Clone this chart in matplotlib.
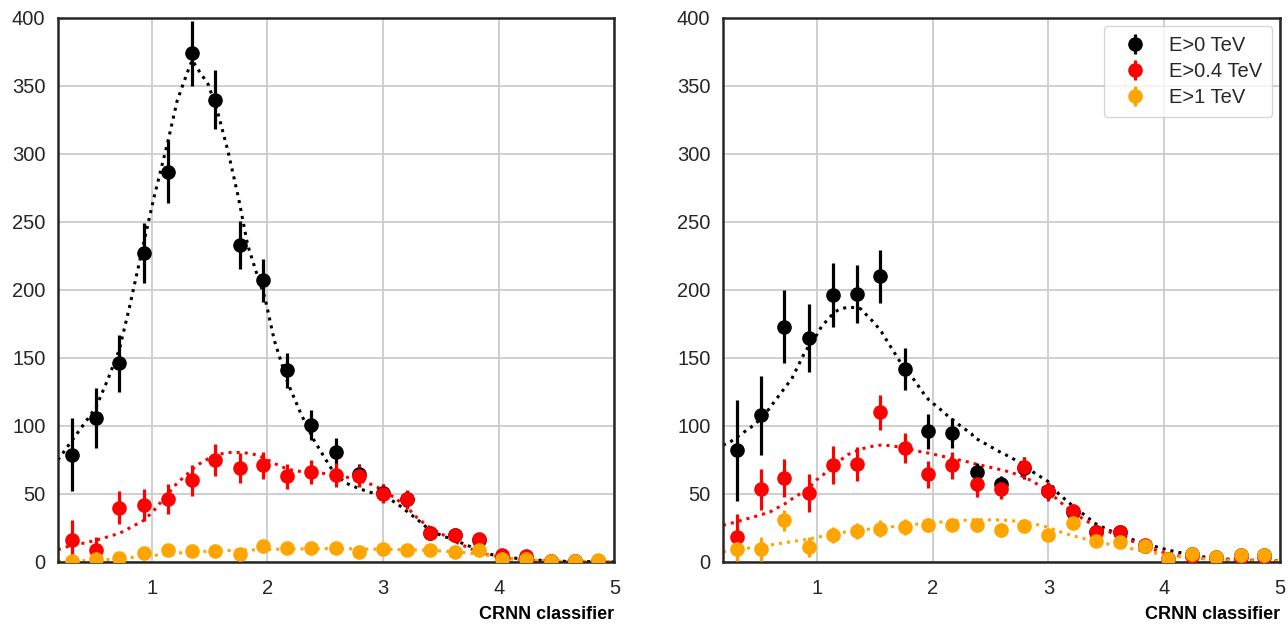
import numpy as np
import matplotlib
matplotlib.use("Agg")
import matplotlib.pyplot as plt

# bin centres on the CRNN classifier axis
bins = [0.31, 0.52, 0.72, 0.93, 1.14, 1.35, 1.55, 1.76, 1.96, 2.17, 2.38, 2.59,
        2.79, 3.00, 3.21, 3.41, 3.62, 3.83, 4.03, 4.24, 4.45, 4.66, 4.86]

# ---- left panel: counts and errors ----
left_e0 = [79, 106, 146, 227, 287, 374, 340, 233, 207, 141, 101, 81,
           65, 51, 46, 21, 20, 16, 3, 3, 1, 0.5, 1]
left_e0_err = [27, 22, 21, 22, 23, 24, 22, 17.5, 16, 13, 11, 10,
               7, 6, 6, 4, 4, 4, 2, 2, 1, 1, 1]
left_e04 = [16, 8.5, 40, 42, 46, 60, 75, 69, 71, 63, 66, 64,
            63, 50, 46, 21.5, 20, 17, 5, 4.5, 0.5, 0.5, 0.5]
left_e04_err = [15, 10, 12, 12, 11, 11.5, 11.5, 11, 10, 9, 9, 9,
                8, 7, 7, 5, 4, 4, 2, 2, 1, 1, 1]
left_e1 = [1, 2.5, 3, 6.5, 8.5, 8, 8, 5.5, 11.5, 10.5, 10.5, 10.5,
           7, 9.5, 8.5, 8.5, 7.5, 9, 2.5, 2.5, 0.5, 0.5, 1.5]
left_e1_err = [3, 3, 3, 3.5, 4, 3.5, 3.5, 3, 4, 3.5, 3.5, 3.5,
               3, 3, 3, 3, 3, 3, 1.5, 1.5, 1, 1, 1]

# fitted curves
left_fit_x = [0.19, 0.30, 0.42, 0.52, 0.62, 0.72, 0.81, 0.94, 1.02, 1.14, 1.22,
              1.30, 1.35, 1.41, 1.49, 1.57, 1.66, 1.75, 1.83, 1.92, 1.98, 2.06,
              2.18, 2.29, 2.40, 2.50, 2.58, 2.68, 2.79, 2.90, 3.00, 3.12, 3.21,
              3.30, 3.41, 3.52, 3.62, 3.75, 3.87, 4.03, 4.25, 4.56, 5.00]
left_fit_e0 = [75, 88, 102, 114, 134, 156, 188, 238, 268, 309, 339,
               358, 369, 361, 351, 331, 302, 268, 233, 209, 194, 163,
               131, 109, 90, 76, 65, 58, 54, 51, 49, 43, 37,
               31, 23, 19, 16, 11.5, 6.5, 4, 1.7, 0.5, 0]
left_fit_e04 = [9, 12, 14, 16, 18.5, 21, 25, 31, 38, 50, 58,
                64, 68, 72, 76, 79, 80.5, 80.5, 80, 78.5, 76, 72.5,
                68, 66.5, 66, 65, 64, 62.5, 60, 57, 53, 46, 40,
                32, 25, 20, 15, 10, 6, 3, 1.2, 0.3, 0]
left_fit_e1 = [0.5, 0.7, 1, 1.3, 1.8, 2.5, 3.2, 4.2, 4.8, 6, 6.6,
               7, 7.3, 7.6, 7.9, 8.1, 8.4, 8.6, 8.8, 9, 9.1, 9.3,
               9.5, 9.6, 9.7, 9.8, 9.8, 9.7, 9.6, 9.5, 9.3, 9.1, 9,
               8.8, 8.5, 8, 7.5, 6.5, 5.5, 3, 1.5, 0.4, 0.1]

# ---- right panel: counts and errors ----
right_e0 = [82, 108, 173, 165, 196, 197, 210, 142, 96, 95, 66, 57,
            69, 52, 37, 22, 22, 11.5, 2.5, 5.5, 3.5, 5, 5]
right_e0_err = [37, 29, 27, 25, 23.5, 21, 19.5, 15.5, 13, 11, 7, 6,
                8, 6, 5, 4, 4, 3, 2, 2, 1.5, 1.5, 1.5]
right_e04 = [18, 53.5, 62, 51, 71, 72, 110, 84, 64.5, 71, 57, 54,
             69.5, 52, 37.5, 22, 22, 12.5, 2.5, 4.5, 3, 4, 4]
right_e04_err = [17, 15, 14, 14, 14, 12.5, 13, 11, 10, 10, 9, 8,
                 8, 7, 5, 4, 4, 3, 2, 2, 1.5, 1.5, 1.5]
right_e1 = [9.5, 9.5, 30.5, 11, 20, 23, 24.5, 25.5, 27, 27.5, 27, 23.5,
            26.5, 20, 28.5, 15.5, 15, 11.5, 2.5, 5.5, 3.5, 5, 5]
right_e1_err = [9, 9, 8, 7, 6, 6, 6, 6, 5, 5, 5, 5,
                5, 4, 4, 3, 3, 3, 2, 2, 1.5, 1.5, 1.5]

right_fit_x = [0.19, 0.24, 0.43, 0.53, 0.60, 0.75, 0.78, 0.89, 0.94, 1.00, 1.04,
               1.15, 1.19, 1.27, 1.37, 1.38, 1.50, 1.56, 1.64, 1.75, 1.79, 1.93,
               1.97, 2.07, 2.15, 2.25, 2.34, 2.35, 2.58, 2.65, 2.78, 2.87, 3.00,
               3.09, 3.20, 3.41, 3.62, 3.83, 4.04, 4.25, 4.36, 4.46, 4.68, 5.00]
right_fit_e0 = [86, 87.5, 99, 106, 114, 131, 134, 153, 160, 167, 173,
                183.5, 185.5, 187.5, 186.5, 186, 175.5, 169, 158, 143, 140, 123,
                119, 112, 106, 99.5, 94, 92, 81, 78, 72, 66, 59,
                50, 42, 28, 19.5, 13.5, 8.6, 4.9, 3.5, 2.5, 1.5, 0.7]
right_fit_e04 = [27, 28, 32.5, 35, 37, 44, 46, 52, 55, 60.5, 63,
                 71, 74, 79, 82.5, 83, 85.5, 86, 85.5, 84, 83, 80.5,
                 80, 78, 76.5, 74.5, 73, 72.5, 68, 66.5, 63, 59, 52,
                 45, 37, 26, 19, 11.5, 5.5, 3, 2.5, 2, 1.2, 0.5]
right_fit_e1 = [7.5, 7.8, 10.5, 11.5, 12.5, 14.5, 15, 16.3, 17, 18, 18.7,
                20.5, 21.3, 22.3, 23.5, 23.6, 24.5, 25, 25.8, 27, 27.3, 28.3,
                28.7, 29.4, 29.9, 30.5, 31, 31, 30.9, 30.6, 29.5, 28.2, 25.5,
                22.5, 19.5, 15, 11.5, 7.8, 4.7, 2.8, 2.2, 1.6, 1, 0.5]

labels = ["E>0 TeV", "E>0.4 TeV", "E>1 TeV"]
colors = ["black", "red", "orange"]

plt.rcParams["font.family"] = ["Liberation Sans", "DejaVu Sans"]
plt.rcParams["font.size"] = 14
plt.rcParams["text.color"] = "#262626"
plt.rcParams["xtick.color"] = "#262626"
plt.rcParams["ytick.color"] = "#262626"

fig = plt.figure(figsize=(12.88, 6.24), dpi=100)
ax_left = fig.add_axes([0.045, 0.0994, 0.432, 0.8718])
ax_right = fig.add_axes([0.5613, 0.0994, 0.4325, 0.8718])

panels = [
    (ax_left, [left_e0, left_e04, left_e1], [left_e0_err, left_e04_err, left_e1_err],
     left_fit_x, [left_fit_e0, left_fit_e04, left_fit_e1]),
    (ax_right, [right_e0, right_e04, right_e1], [right_e0_err, right_e04_err, right_e1_err],
     right_fit_x, [right_fit_e0, right_fit_e04, right_fit_e1]),
]

for ax, counts, errs, fit_x, fits in panels:
    for i in range(3):
        ax.plot(fit_x, fits[i], linestyle=":", color=colors[i], linewidth=2.2, zorder=2)
        ax.errorbar(bins, counts[i], yerr=errs[i], fmt="o", color=colors[i],
                    markersize=9.5, elinewidth=2.3, capsize=0, label=labels[i], zorder=3)

    ax.set_xlim(0.19, 5.0)
    ax.set_ylim(0, 400)
    ax.set_xticks([1, 2, 3, 4, 5])
    ax.set_yticks(np.arange(0, 401, 50))
    ax.grid(True, color="#cccccc", linewidth=1.3)
    ax.set_axisbelow(True)
    ax.tick_params(axis="x", length=0, pad=12, labelsize=14.5)
    ax.tick_params(axis="y", length=0, pad=9, labelsize=14.5)
    for sp in ax.spines.values():
        sp.set_color("#262626")
        sp.set_linewidth(1.8)
    ax.set_xlabel("CRNN classifier", loc="right", fontweight="bold", fontsize=13, labelpad=6)

leg = ax_right.legend(loc="upper right", fontsize=14.5, frameon=True, handletextpad=0.7,
                      borderpad=0.5, labelspacing=0.35, borderaxespad=0.4)
leg.get_frame().set_edgecolor("#cccccc")
leg.get_frame().set_linewidth(1.0)

fig.savefig("out.png", dpi=100)
